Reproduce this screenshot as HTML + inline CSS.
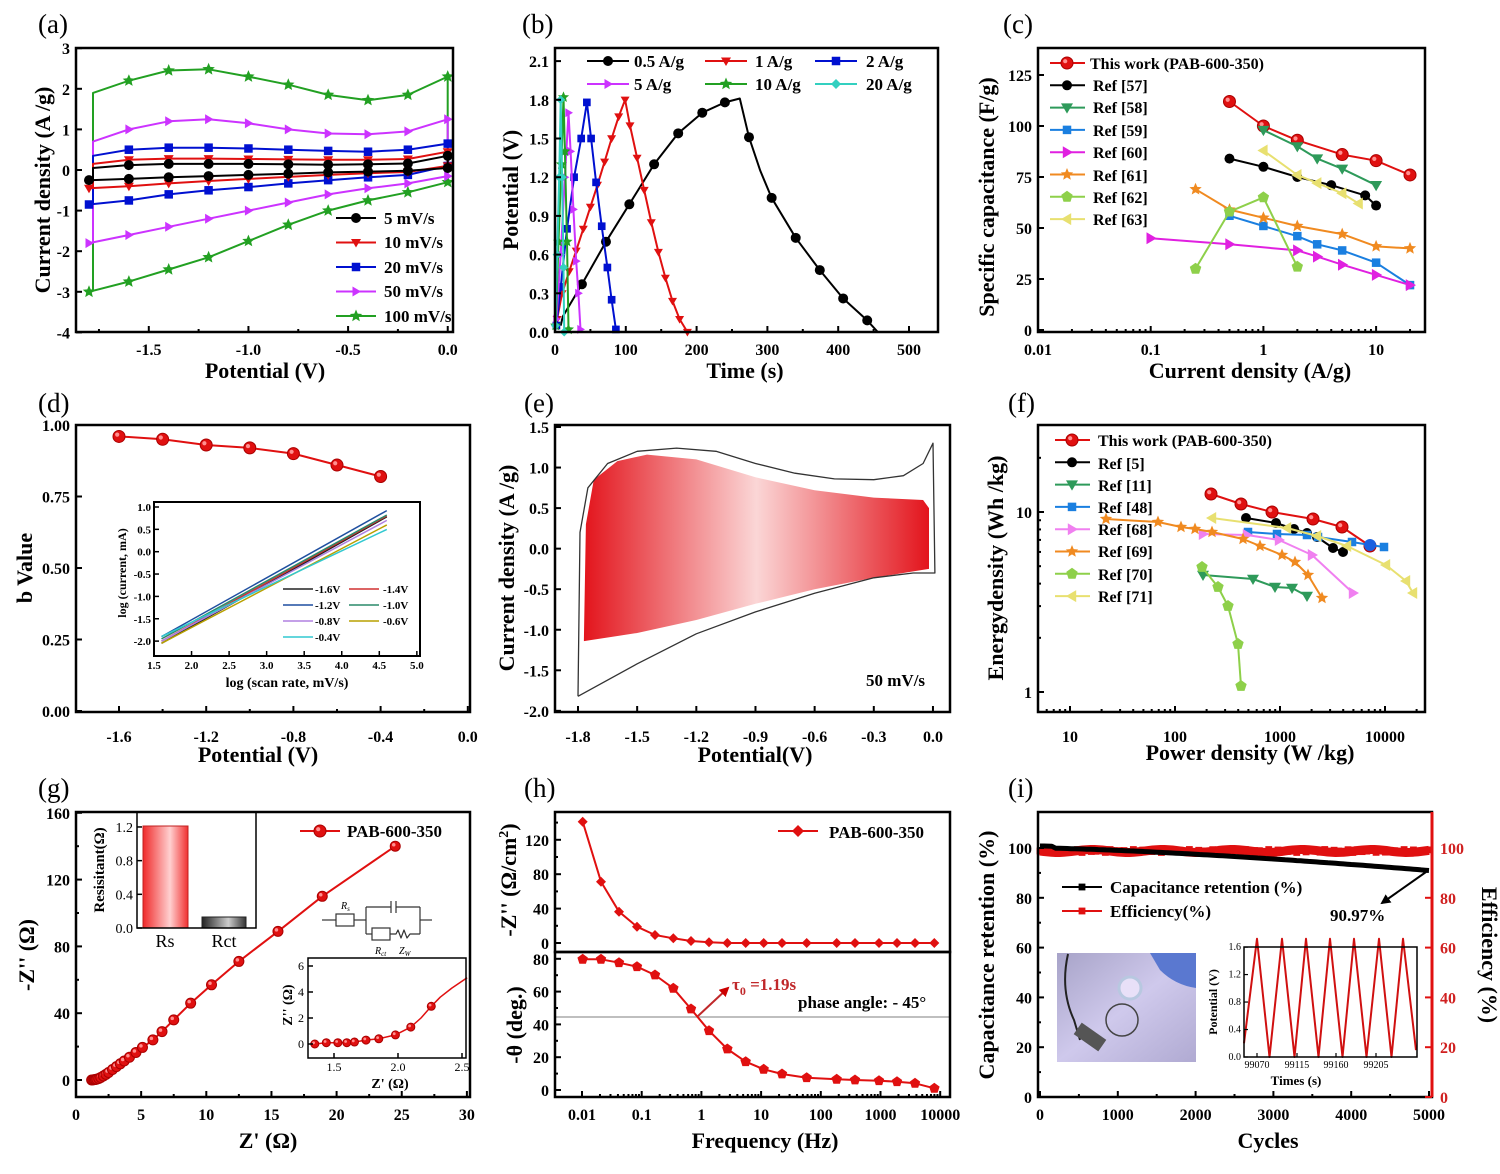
<!DOCTYPE html>
<html><head><meta charset="utf-8">
<style>
html,body{margin:0;padding:0;background:#fff;}
svg{display:block;font-family:"Liberation Serif",serif;}
text{font-family:"Liberation Serif",serif;}
</style></head>
<body>
<svg id="s" width="1500" height="1174" viewBox="0 0 1500 1174" xmlns="http://www.w3.org/2000/svg">
<defs>
<linearGradient id="ge" x1="0" x2="1" y1="0" y2="0">
<stop offset="0" stop-color="#e3141c"/><stop offset="0.5" stop-color="#fbd6d6"/><stop offset="1" stop-color="#e3141c"/>
</linearGradient>
<linearGradient id="gr" x1="0" x2="1" y1="0" y2="0">
<stop offset="0" stop-color="#f02a2a"/><stop offset="0.6" stop-color="#ffd0d0"/><stop offset="1" stop-color="#f03030"/>
</linearGradient>
<linearGradient id="gk" x1="0" x2="1" y1="0" y2="0">
<stop offset="0" stop-color="#222"/><stop offset="0.6" stop-color="#ccc"/><stop offset="1" stop-color="#333"/>
</linearGradient>
<linearGradient id="gp" x1="0" x2="1" y1="0" y2="1">
<stop offset="0" stop-color="#a7a3c8"/><stop offset="0.5" stop-color="#cfc9ec"/><stop offset="1" stop-color="#b0aad2"/>
</linearGradient>
<marker id="ah" viewBox="0 0 10 10" refX="8" refY="5" markerWidth="5" markerHeight="5" orient="auto"><path d="M0,0 L10,5 L0,10 z" fill="#c00"/></marker>
<marker id="ak" viewBox="0 0 10 10" refX="8" refY="5" markerWidth="5" markerHeight="5" orient="auto"><path d="M0,0 L10,5 L0,10 z" fill="#000"/></marker>
</defs>
<rect width="1500" height="1174" fill="#fff"/>

<g font-size="27">
<text x="38" y="33">(a)</text><text x="522" y="33">(b)</text><text x="1003" y="33">(c)</text>
<text x="38" y="412">(d)</text><text x="524" y="412">(e)</text><text x="1008" y="412">(f)</text>
<text x="38" y="797">(g)</text><text x="524" y="797">(h)</text><text x="1008" y="797">(i)</text>
</g>

<g font-size="22" font-weight="bold" text-anchor="middle">
<text x="265" y="378">Potential (V)</text>
<text transform="translate(50,190) rotate(-90)">Current density (A /g)</text>
<text x="745" y="378">Time (s)</text>
<text transform="translate(518,190) rotate(-90)">Potential (V)</text>
<text x="1250" y="378">Current density (A/g)</text>
<text transform="translate(994,197) rotate(-90)">Specific capacitance (F/g)</text>
<text x="258" y="762">Potential (V)</text>
<text transform="translate(32,568) rotate(-90)">b Value</text>
<text x="755" y="762">Potential(V)</text>
<text transform="translate(514,568) rotate(-90)">Current density (A /g)</text>
<text x="1250" y="760">Power density (W /kg)</text>
<text transform="translate(1003,568) rotate(-90)">Energydensity (Wh /kg)</text>
<text x="268" y="1148">Z' (Ω)</text>
<text transform="translate(34,955) rotate(-90)">-Z'' (Ω)</text>
<text x="765" y="1148">Frequency (Hz)</text>
<text transform="translate(516,880) rotate(-90)">-Z'' (Ω/cm<tspan font-size="14" dy="-8">2</tspan><tspan dy="8">)</tspan></text>
<text transform="translate(522,1025) rotate(-90)">-θ (deg.)</text>
<text x="1268" y="1148">Cycles</text>
<text transform="translate(994,955) rotate(-90)">Capacitance retention (%)</text>
<text transform="translate(1482,955) rotate(90)">Efficiency (%)</text>
</g>

<g font-size="17" font-weight="bold">
<text x="384" y="224">5 mV/s</text><text x="384" y="248">10 mV/s</text><text x="384" y="273">20 mV/s</text><text x="384" y="297">50 mV/s</text><text x="384" y="322">100 mV/s</text>
<text x="634" y="67">0.5 A/g</text><text x="755" y="67">1 A/g</text><text x="866" y="67">2 A/g</text>
<text x="634" y="90">5 A/g</text><text x="755" y="90">10 A/g</text><text x="866" y="90">20 A/g</text>
<g font-size="16">
<text x="1090" y="69">This work (PAB-600-350)</text><text x="1093" y="91">Ref [57]</text><text x="1093" y="113">Ref [58]</text><text x="1093" y="136">Ref [59]</text><text x="1093" y="158">Ref [60]</text><text x="1093" y="181">Ref [61]</text><text x="1093" y="203">Ref [62]</text><text x="1093" y="225">Ref [63]</text>
<text x="1098" y="446">This work (PAB-600-350)</text><text x="1098" y="469">Ref [5]</text><text x="1098" y="491">Ref [11]</text><text x="1098" y="513">Ref [48]</text><text x="1098" y="535">Ref [68]</text><text x="1098" y="557">Ref [69]</text><text x="1098" y="580">Ref [70]</text><text x="1098" y="602">Ref [71]</text>
</g>
<text x="721" y="568">79%</text>
<text x="866" y="686">50 mV/s</text>
<text x="347" y="837">PAB-600-350</text>
<text x="829" y="838">PAB-600-350</text>
<text x="798" y="1008">phase angle: - 45°</text>
<text x="732" y="990" fill="#c0282a">τ<tspan font-size="12" dy="5">0</tspan><tspan dy="-5"> =1.19s</tspan></text>
<text x="1110" y="893">Capacitance retention (%)</text>
<text x="1110" y="917">Efficiency(%)</text>
<text x="1330" y="921">90.97%</text>
</g>

<g font-size="11" font-weight="bold">
<text x="315" y="593">-1.6V</text><text x="383" y="593">-1.4V</text>
<text x="315" y="609">-1.2V</text><text x="383" y="609">-1.0V</text>
<text x="315" y="625">-0.8V</text><text x="383" y="625">-0.6V</text>
<text x="315" y="641">-0.4V</text>
</g>
<text x="287" y="687" font-size="14" font-weight="bold" text-anchor="middle">log (scan rate, mV/s)</text>
<text transform="translate(126,573) rotate(-90)" font-size="12" font-weight="bold" text-anchor="middle">log (current, mA)</text>

<text x="390" y="1088" font-size="14" font-weight="bold" text-anchor="middle">Z' (Ω)</text>
<text transform="translate(292,1005) rotate(-90)" font-size="14" font-weight="bold" text-anchor="middle">Z'' (Ω)</text>
<g font-size="10" font-style="italic"><text x="341" y="909">R<tspan font-size="7" dy="2">s</tspan></text><text x="375" y="954">R<tspan font-size="7" dy="2">ct</tspan></text><text x="399" y="954">Z<tspan font-size="7" dy="2">W</tspan></text></g>

<text x="1296" y="1085" font-size="13" font-weight="bold" text-anchor="middle">Times (s)</text>
<text transform="translate(1217,1002) rotate(-90)" font-size="12" font-weight="bold" text-anchor="middle">Potential (V)</text>
</svg>
<script>
const NS='http://www.w3.org/2000/svg';
const svg=document.getElementById('s');
function el(tag,a,p){const e=document.createElementNS(NS,tag);for(const k in a)e.setAttribute(k,a[k]);(p||svg).appendChild(e);return e;}
function T(x,y,s,o){const e=el('text',Object.assign({x:x,y:y,'font-size':16,'font-weight':'bold','text-anchor':'middle'},o||{}));e.textContent=s;return e;}
function P(pts){return pts.map(p=>p[0].toFixed(1)+','+p[1].toFixed(1)).join(' ');}
function line(pts,c,w,ex){return el('polyline',Object.assign({points:P(pts),fill:'none',stroke:c,'stroke-width':w||2,'stroke-linejoin':'round'},ex||{}));}
function poly(pts,f,ex){return el('polygon',Object.assign({points:P(pts),fill:f},ex||{}));}
function star(x,y,r){const a=[];for(let i=0;i<10;i++){const rr=i%2?r*0.45:r;const t=-Math.PI/2+i*Math.PI/5;a.push([x+rr*Math.cos(t),y+rr*Math.sin(t)]);}return a;}
function mk(t,x,y,c,s){s=s||5;
 if(t=='o')el('circle',{cx:x,cy:y,r:s,fill:c});
 else if(t=='O'){el('circle',{cx:x,cy:y,r:s,fill:c,stroke:'#a00','stroke-width':1});el('circle',{cx:x-s*0.3,cy:y-s*0.3,r:s*0.35,fill:'#ff9090'});}
 else if(t=='s')el('rect',{x:x-s*0.85,y:y-s*0.85,width:s*1.7,height:s*1.7,fill:c});
 else if(t=='v')poly([[x-s,y-s*0.7],[x+s,y-s*0.7],[x,y+s]],c);
 else if(t=='>')poly([[x-s*0.7,y-s],[x-s*0.7,y+s],[x+s,y]],c);
 else if(t=='<')poly([[x+s*0.7,y-s],[x+s*0.7,y+s],[x-s,y]],c);
 else if(t=='*')poly(star(x,y,s*1.3),c);
 else if(t=='d')poly([[x,y-s],[x+s,y],[x,y+s],[x-s,y]],c);
 else if(t=='p'){const a=[];for(let i=0;i<5;i++){const q=-Math.PI/2+i*2*Math.PI/5;a.push([x+s*Math.cos(q),y+s*Math.sin(q)]);}poly(a,c);}
}
function series(pts,c,t,s,w){line(pts,c,w||2);pts.forEach(p=>mk(t,p[0],p[1],c,s));}
function frame(x,y,w,h,c){el('rect',{x:x,y:y,width:w,height:h,fill:'none',stroke:c||'#000','stroke-width':2.5});}
function xt(list,yb,ly,len,fs){list.forEach(a=>{el('line',{x1:a[0],x2:a[0],y1:yb,y2:yb-(len||6),stroke:'#000','stroke-width':2});if(a[1]!==null)T(a[0],ly,a[1],{'font-size':fs||16});});}
function yt(list,xl,lx,len,fs){list.forEach(a=>{el('line',{x1:xl,x2:xl+(len||6),y1:a[0],y2:a[0],stroke:'#000','stroke-width':2});if(a[1]!==null)T(lx,a[0]+(fs?fs*0.35:6),a[1],{'font-size':fs||16,'text-anchor':'end'});});}

// (a)
(function(){
const X=v=>89+(v+1.8)*199.3, Y=i=>170-i*40.6;
const vs=[];for(let i=0;i<10;i++)vs.push(-1.8+i*0.2);
const S=[
 ['#22a022','*',[1.9,2.2,2.45,2.48,2.3,2.1,1.85,1.72,1.85,2.3],[-3.0,-2.75,-2.45,-2.15,-1.75,-1.35,-1.0,-0.75,-0.55,-0.3]],
 ['#cc33ff','>',[0.7,1.0,1.2,1.25,1.15,1.0,0.9,0.88,0.95,1.25],[-1.8,-1.6,-1.4,-1.2,-1.0,-0.8,-0.6,-0.45,-0.33,-0.15]],
 ['#0010d0','s',[0.35,0.5,0.55,0.55,0.53,0.5,0.47,0.45,0.5,0.65],[-0.85,-0.75,-0.6,-0.5,-0.42,-0.33,-0.25,-0.18,-0.12,0.1]],
 ['#e01010','v',[0.15,0.25,0.28,0.28,0.27,0.26,0.25,0.25,0.27,0.45],[-0.45,-0.4,-0.33,-0.27,-0.22,-0.17,-0.12,-0.08,-0.05,0.1]],
 ['#000','o',[0.05,0.12,0.15,0.15,0.15,0.14,0.13,0.14,0.16,0.35],[-0.25,-0.22,-0.18,-0.15,-0.12,-0.09,-0.06,-0.04,-0.02,0.05]]];
S.forEach(s=>{const lo=vs.map((v,i)=>[X(v),Y(s[3][i])]);const up=vs.map((v,i)=>[X(v+(i==0?0.02:0)),Y(s[2][i])]);
 const loop=lo.concat([[X(0),Y(s[2][9])]]).concat(up.slice(0,9).reverse()).concat([[X(-1.8)+4,Y(s[3][0])]]);
 line(loop,s[0],2);
 for(let i=0;i<10;i++){mk(s[1],lo[i][0],lo[i][1],s[0],5);if(i>0)mk(s[1],up[i][0],up[i][1],s[0],5);}});
const L=[['#000','o'],['#e01010','v'],['#0010d0','s'],['#cc33ff','>'],['#22a022','*']];
L.forEach((l,i)=>{const y=218+i*24.5;line([[336,y],[376,y]],l[0],2);mk(l[1],356,y,l[0],5);});
frame(76,48,377,284);
xt([[X(-1.5),'-1.5'],[X(-1.0),'-1.0'],[X(-0.5),'-0.5'],[X(0),'0.0']],332,355);
xt([[X(-1.75),null],[X(-1.25),null],[X(-0.75),null],[X(-0.25),null]],332,0,3);
yt([3,2,1,0,-1,-2,-3,-4].map(v=>[Y(v),String(v)]),76,70);
})();

// (b)
(function(){
const X=t=>555+t*0.708, Y=v=>332-v*129;
const D=[
 ['#000','o',[[8,0.05],[11,0.12],[38,0.37],[72,0.7],[105,0.99],[140,1.3],[174,1.54],[208,1.7],[240,1.78],[261,1.81],[274,1.51],[290,1.25],[306,1.04],[340,0.73],[374,0.48],[407,0.26],[441,0.09],[456,0]],[2,3,4,5,6,7,8,10,12,13,14,15,16]],
 ['#e01010','v',[[3,0.1],[10,0.3],[20,0.47],[30,0.63],[40,0.8],[50,0.97],[60,1.14],[70,1.32],[80,1.5],[90,1.67],[99,1.8],[106,1.6],[116,1.35],[126,1.1],[136,0.85],[146,0.62],[156,0.42],[166,0.24],[176,0.1],[187,0]],null],
 ['#0010d0','s',[[2,0.05],[8,0.35],[17,0.8],[27,1.2],[37,1.5],[45,1.78],[51,1.5],[58,1.16],[66,0.82],[74,0.5],[80,0.25],[86,0.02]],null],
 ['#cc33ff','>',[[2,0.1],[8,0.6],[14,1.2],[19,1.7],[22,1.4],[26,0.95],[30,0.55],[33,0.3],[36,0.02]],null],
 ['#22a022','*',[[1,0.05],[5,0.7],[9,1.3],[12,1.82],[14,1.4],[17,0.7],[19,0.02]],null],
 ['#33d0c0','d',[[0.5,0.05],[3,0.6],[6,1.2],[8,1.8],[10,1.2],[12,0.5],[13,0]],null]];
D.forEach(d=>{const pts=d[2].map(p=>[X(p[0]),Y(p[1])]);line(pts,d[0],2);
 if(d[3])d[3].forEach(i=>mk(d[1],pts[i][0],pts[i][1],d[0],5));else pts.forEach(p=>mk(d[1],p[0],p[1],d[0],4.5));});
const L=[[587,61,'#000','o'],[705,61,'#e01010','v'],[815,61,'#0010d0','s'],[587,84,'#cc33ff','>'],[705,84,'#22a022','*'],[815,84,'#33d0c0','d']];
L.forEach(l=>{line([[l[0],l[1]],[l[0]+42,l[1]]],l[2],2);mk(l[3],l[0]+21,l[1],l[2],5);});
frame(555,48,383,284);
xt([0,100,200,300,400,500].map(t=>[X(t),String(t)]),332,355);
xt([50,150,250,350,450].map(t=>[X(t),null]),332,0,3);
yt(['0.0','0.3','0.6','0.9','1.2','1.5','1.8','2.1'].map(v=>[Y(+v),v]),555,549);
})();

// (c)
(function(){
const X=j=>1038+(Math.log10(j)+2)*112.7, Y=c=>330-c*2.04;
const D=[
 ['#e01010','O',[[0.5,112],[1,100],[2,93],[5,86],[10,83],[20,76]],6],
 ['#000','o',[[0.5,84],[1,80],[2,75],[4,71],[8,66],[10,61]],5],
 ['#2e9a5a','v',[[1,98],[2,90],[3,84],[5,79],[10,71]],6],
 ['#1a7fe0','s',[[0.5,56],[1,51],[2,46],[3,42],[5,39],[10,33],[20,22]],5],
 ['#e020e0','>',[[0.1,45],[0.5,42],[2,39],[3,36],[5,32],[10,27],[20,22]],6],
 ['#f08a20','*',[[0.25,69],[0.5,59],[1,55],[2,51],[5,47],[10,41],[20,40]],5],
 ['#8ed04a','p',[[0.25,30],[0.5,58],[1,65],[2,31]],6],
 ['#e8e070','<',[[1,88],[2,76],[3,72],[5,67],[7,62]],6]];
D.forEach((d,i)=>{series(d[2].map(p=>[X(p[0]),Y(p[1])]),d[0],d[1],d[3]);
 const y=63+i*22.3;line([[1050,y],[1085,y]],d[0],2);mk(d[1],1067,y,d[0],d[3]);});
frame(1038,48,387,284);
xt([[X(0.01),'0.01'],[X(0.1),'0.1'],[X(1),'1'],[X(10),'10']],332,355);
const mn=[];[0.01,0.1,1,10].forEach(b=>{for(let k=2;k<10;k++)if(b*k<=25)mn.push([X(b*k),null]);});xt(mn,332,0,3);
yt([0,25,50,75,100,125].map(v=>[Y(v),String(v)]),1038,1032);
})();

// (d)
(function(){
const X=v=>119+(v+1.6)*218, Y=b=>711-b*286;
series([[-1.6,0.96],[-1.4,0.95],[-1.2,0.93],[-1.0,0.92],[-0.8,0.90],[-0.6,0.86],[-0.4,0.82]].map(p=>[X(p[0]),Y(p[1])]),'#e01010','O',6);
frame(76,425,394,287);
xt([[X(-1.6),'-1.6'],[X(-1.2),'-1.2'],[X(-0.8),'-0.8'],[X(-0.4),'-0.4'],[X(0),'0.0']],712,742);
xt([X(-1.4),X(-1.0),X(-0.6),X(-0.2)].map(x=>[x,null]),712,0,3);
yt([['0.00',0],['0.25',0.25],['0.50',0.5],['0.75',0.75],['1.00',1]].map(a=>[Y(a[1]),a[0]]),76,70);
const IX=l=>154+(l-1.5)*75.1, IY=y=>507+(1-y)*44.7;
const C=[['#222',-2.05,0.78],['#d03030',-2.0,0.8],['#1f4fa0',-1.9,0.92],['#2a8a6a',-1.95,0.82],['#b080e0',-2.0,0.7],['#b8a000',-2.05,0.6],['#30c8d0',-1.9,0.5]];
C.forEach(c=>line([[IX(1.6),IY(c[1])],[IX(4.6),IY(c[2])]],c[0],1.5));
el('rect',{x:154,y:502,width:266,height:154,fill:'none',stroke:'#000','stroke-width':2});
[['1.5',1.5],['2.0',2],['2.5',2.5],['3.0',3],['3.5',3.5],['4.0',4],['4.5',4.5],['5.0',5]].forEach(a=>{el('line',{x1:IX(a[1]),x2:IX(a[1]),y1:656,y2:651,stroke:'#000','stroke-width':1.5});T(IX(a[1]),669,a[0],{'font-size':11});});
['1.0','0.5','0.0','-0.5','-1.0','-1.5','-2.0'].forEach(s=>{const y=IY(+s);el('line',{x1:154,x2:159,y1:y,y2:y,stroke:'#000','stroke-width':1.5});T(151,y+4,s,{'font-size':11,'text-anchor':'end'});});
const LG=[[283,589,'#222'],[349,589,'#d03030'],[283,605,'#1f4fa0'],[349,605,'#2a8a6a'],[283,621,'#b080e0'],[349,621,'#b8a000'],[283,637,'#30c8d0']];
LG.forEach(l=>line([[l[0],l[1]],[l[0]+30,l[1]]],l[2],1.5));
})();

// (e)
(function(){
const X=v=>578+(v+1.8)*197.2, Y=i=>427+(1.5-i)*81.1;
const inner=[[-1.77,-1.12],[-1.76,0.3],[-1.72,0.85],[-1.6,1.08],[-1.45,1.16],[-1.2,1.1],[-0.9,0.88],[-0.6,0.72],[-0.3,0.63],[-0.05,0.6],[-0.02,0.5],[-0.02,-0.25],[-0.1,-0.28],[-0.3,-0.36],[-0.6,-0.5],[-0.9,-0.68],[-1.2,-0.88],[-1.5,-1.04],[-1.77,-1.14]];
poly(inner.map(p=>[X(p[0]),Y(p[1])]),'url(#ge)');
const outer=[[-1.8,-1.82],[-1.79,0.2],[-1.75,0.75],[-1.65,1.05],[-1.5,1.2],[-1.3,1.24],[-1.1,1.2],[-0.9,1.05],[-0.7,0.93],[-0.5,0.86],[-0.3,0.85],[-0.15,0.9],[-0.05,1.05],[0,1.3],[0.01,-0.3],[-0.1,-0.3],[-0.3,-0.36],[-0.6,-0.55],[-0.9,-0.78],[-1.2,-1.05],[-1.5,-1.42],[-1.8,-1.82]];
line(outer.map(p=>[X(p[0]),Y(p[1])]),'#333',1.3);
frame(555,425,395,287);
xt(['-1.8','-1.5','-1.2','-0.9','-0.6','-0.3','0.0'].map(s=>[X(+s),s]),712,742);
yt(['1.5','1.0','0.5','0.0','-0.5','-1.0','-1.5','-2.0'].map(s=>[Y(+s),s]),555,549);
})();

// (f)
(function(){
const D=[
 ['#e01010','O',[[1211,494],[1241,504],[1272,512],[1313,519],[1342,527],[1370,546]],6],
 ['#000','o',[[1246,518],[1276,523],[1294,529],[1307,533],[1317,537],[1333,548],[1343,552]],5],
 ['#2e9a5a','v',[[1203,575],[1253,579],[1275,587],[1292,588],[1307,596]],6],
 ['#1a7fe0','s',[[1248,532],[1277,534],[1307,535],[1318,537],[1352,542],[1370,545],[1384,547]],5],
 ['#f080f0','>',[[1203,534],[1247,535],[1279,540],[1312,555],[1353,593]],6],
 ['#f08a20','*',[[1106,519],[1158,522],[1181,527],[1195,529],[1212,532],[1243,539],[1260,546],[1282,555],[1295,562],[1308,575],[1322,598]],5],
 ['#8ed04a','p',[[1202,567],[1218,587],[1228,606],[1238,644],[1241,686]],6],
 ['#e8e070','<',[[1212,518],[1287,528],[1317,536],[1347,546],[1386,565],[1406,581],[1413,593]],6]];
D.forEach((d,i)=>{series(d[2],d[0],d[1],d[3]);const y=440+i*22.3;line([[1055,y],[1090,y]],d[0],2);mk(d[1],1072,y,d[0],d[3]);});
el('circle',{cx:1370,cy:545,r:6,fill:'#1a60e0'});
frame(1038,425,387,287);
const X=p=>1070+(Math.log10(p)-1)*105;
xt([[X(10),'10'],[X(100),'100'],[X(1000),'1000'],[X(10000),'10000']],712,742);
const mn=[];[1,10,100,1000,10000].forEach(b=>{for(let k=2;k<10;k++){const x=X(b*k);if(x>1040&&x<1423)mn.push([x,null]);}});xt(mn,712,0,3);
const Y=e=>692-Math.log10(e)*180;
yt([[Y(10),'10'],[Y(1),'1']],1038,1032);
const ym=[];for(let k=2;k<10;k++){ym.push([Y(k),null]);}ym.push([Y(20),null]);ym.push([Y(30),null]);yt(ym.filter(a=>a[0]>427),1038,0,3);
})();

// (g)
(function(){
const X=z=>76+z*13.03, Y=z=>1080-z*1.67;
const pts=[[1.2,0],[1.3,0.1],[1.4,0.2],[1.5,0.3],[1.6,0.5],[1.75,0.9],[1.9,1.5],[2.1,2.4],[2.3,3.4],[2.5,4.5],[2.8,6.3],[3.1,8],[3.4,9.7],[3.7,11.4],[4.1,13.6],[4.6,16.5],[5.1,19.5],[5.9,24],[6.6,29],[7.5,36],[8.8,46],[10.4,57],[12.5,71],[15.5,89],[18.9,110],[24.5,140]];
series(pts.map(p=>[X(p[0]),Y(p[1])]),'#e01010','O',5);
line([[300,831],[340,831]],'#e01010',2);mk('O',320,831,'#e01010',6);
el('rect',{x:88,y:812,width:169,height:116,fill:'#fff'});
el('rect',{x:143,y:826,width:45,height:102,fill:'url(#gr)',stroke:'#c02020','stroke-width':1});
el('rect',{x:202,y:917,width:44,height:11,fill:'url(#gk)',stroke:'#222','stroke-width':1});
el('rect',{x:137,y:812,width:119,height:116,fill:'none',stroke:'#000','stroke-width':1.5});
[['1.2',1.2],['0.8',0.8],['0.4',0.4],['0.0',0]].forEach(a=>{const y=928-a[1]*84.2;el('line',{x1:137,x2:142,y1:y,y2:y,stroke:'#000','stroke-width':1.5});T(133,y+5,a[0],{'font-size':14,'font-weight':'normal','text-anchor':'end'});});
T(0,0,'Resisitant(Ω)',{'font-size':15,transform:'translate(104,870) rotate(-90)'});
T(165,947,'Rs',{'font-size':18,'font-weight':'normal'});
T(224,947,'Rct',{'font-size':18,'font-weight':'normal'});
frame(76,812,394,285);
xt([0,5,10,15,20,25,30].map(z=>[X(z),String(z)]),1097,1120);
xt([2.5,7.5,12.5,17.5,22.5,27.5].map(z=>[X(z),null]),1097,0,3);
yt([0,40,80,120,160].map(v=>[Y(v),String(v)]),76,70);
yt([20,60,100,140].map(v=>[Y(v),null]),76,0,3);
const k='#333';const Lk=(a)=>line(a,k,1.2);
Lk([[322,920],[336,920]]);el('rect',{x:336,y:914,width:18,height:12,fill:'#fff',stroke:k,'stroke-width':1.2});Lk([[354,920],[366,920]]);
Lk([[366,907],[366,934]]);Lk([[366,907],[391,907]]);Lk([[391,901],[391,913]]);Lk([[396,901],[396,913]]);Lk([[396,907],[420,907]]);
Lk([[366,934],[372,934]]);el('rect',{x:372,y:928,width:18,height:12,fill:'#fff',stroke:k,'stroke-width':1.2});Lk([[390,934],[396,934],[398,930],[401,938],[404,930],[407,938],[410,934],[420,934]]);
Lk([[420,907],[420,934]]);Lk([[420,920],[432,920]]);
const IX=z=>334+(z-1.5)*128, IY=z=>1044-z*13;
const ip=[[1.35,0],[1.44,0.1],[1.53,0.1],[1.6,0.1],[1.66,0.15],[1.75,0.3],[1.85,0.4],[1.98,0.7],[2.1,1.3],[2.18,2.0],[2.26,2.9],[2.33,3.6],[2.42,4.3],[2.54,5.1]];
line(ip.map(p=>[IX(p[0]),IY(p[1])]),'#e01010',1.5);
[[1.35,0],[1.44,0.1],[1.53,0.1],[1.6,0.1],[1.66,0.15],[1.75,0.3],[1.85,0.4],[1.98,0.7],[2.1,1.3],[2.26,2.9]].forEach(p=>mk('O',IX(p[0]),IY(p[1]),'#e01010',4));
el('rect',{x:308,y:958,width:158,height:100,fill:'none',stroke:'#000','stroke-width':1.5});
[['1.5',1.5],['2.0',2],['2.5',2.5]].forEach(a=>{el('line',{x1:IX(a[1]),x2:IX(a[1]),y1:1058,y2:1053,stroke:'#000','stroke-width':1.5});T(IX(a[1]),1071,a[0],{'font-size':12,'font-weight':'normal'});});
['0','2','4','6'].forEach(s=>{const y=IY(+s);el('line',{x1:308,x2:313,y1:y,y2:y,stroke:'#000','stroke-width':1.5});T(304,y+4,s,{'font-size':12,'font-weight':'normal','text-anchor':'end'});});
})();

// (h)
(function(){
const zx=[83,138,192,246,300,355,408,462,517,572,626,681,755,845,900,972,1026,1080,1138].map(v=>555+v/3);
const ty=[35,215,305,350,375,385,393,397,399,399,399,399,399,399,399,399,399,399,399].map(v=>810+v/3);
const by=[448,448,458,470,495,535,597,662,717,755,778,792,803,808,810,812,815,820,835].map(v=>810+v/3);
series(zx.map((x,i)=>[x,ty[i]]),'#e01010','d',5);
line([[555,1017],[950,1017]],'#aaa',1.5);
series(zx.map((x,i)=>[x,by[i]]),'#e01010','p',5.5);
el('line',{x1:698,y1:1016,x2:728,y2:988,stroke:'#c0282a','stroke-width':2,'marker-end':'url(#ah)'});
line([[778,831],[818,831]],'#e01010',2);mk('d',798,831,'#e01010',6);
frame(555,812,395,140);frame(555,952,395,145);
const X=f=>582+(f+2)*59.7;
const lab=['0.01','0.1','1','10','100','1000','10000'];
xt(lab.map((s,i)=>[X(i-2),s]),1097,1120);
const mn=[];for(let d=-2;d<4;d++)for(let k=2;k<10;k++)mn.push([X(d+Math.log10(k)),null]);xt(mn,1097,0,3);
yt([0,40,80,120].map(v=>[943-v*0.86,String(v)]),555,549);
yt([20,60,100,140].map(v=>[943-v*0.86,null]),555,0,3);
yt([0,20,40,60,80].map(v=>[1090-v*1.64,String(v)]),555,549);
yt([10,30,50,70].map(v=>[1090-v*1.64,null]),555,0,3);
})();

// (i)
(function(){
const X=n=>1040+n*0.0778, Y=p=>1097-p*2.49;
const r=[];for(let n=0;n<=5000;n+=50)r.push([X(n),Y(98.8+0.6*Math.sin(n*0.37))]);
line(r,'#e01010',9);
for(let n=0;n<=5000;n+=60)mk('s',X(n),Y(98.8+0.6*Math.sin(n*1.3)),'#e01010',4);
const b=[];for(let n=0;n<=5000;n+=50)b.push([X(n),Y(100-9.03*Math.pow(n/5000,1.4)+(n<200?0.8:0))]);
line(b,'#000',5);
line([[1062,887],[1102,887]],'#000',2);mk('s',1082,887,'#000',4);
line([[1062,911],[1102,911]],'#e01010',2);mk('s',1082,911,'#e01010',4);
el('line',{x1:1426,y1:872,x2:1382,y2:903,stroke:'#000','stroke-width':2,'marker-end':'url(#ak)'});
el('rect',{x:1057,y:953,width:139,height:109,fill:'url(#gp)'});
el('path',{d:'M1068,954 Q1060,990 1074,1020 L1080,1040',stroke:'#222','stroke-width':2,fill:'none'});
el('rect',{x:1075,y:1030,width:30,height:14,fill:'#555',transform:'rotate(35 1090 1037)'});
el('circle',{cx:1122,cy:1020,r:16,fill:'none',stroke:'#444','stroke-width':1.5});
el('circle',{cx:1130,cy:988,r:11,fill:'#e8e0f8',stroke:'#b8c8e0','stroke-width':3});
el('path',{d:'M1150,953 L1196,953 L1196,988 Q1175,985 1160,970 Z',fill:'#5a78d0'});
const IY=v=>1057-v*68.7;const pk=[1257,1282,1306,1330,1354,1379,1403];
const z=[[1244,IY(0.2)]];pk.forEach((p,i)=>{z.push([p,IY(1.72)]);z.push([p+12.5,IY(0)]);});z.pop();z.push([1416,IY(0.1)]);
line(z,'#d01010',2);
el('rect',{x:1244,y:947,width:173,height:110,fill:'none',stroke:'#000','stroke-width':1.5});
['0.0','0.4','0.8','1.2','1.6'].forEach(s=>{const y=IY(+s);el('line',{x1:1244,x2:1248,y1:y,y2:y,stroke:'#000','stroke-width':1.2});T(1241,y+3,s,{'font-size':10,'font-weight':'normal','text-anchor':'end'});});
[[1257,'99070'],[1297,'99115'],[1336,'99160'],[1376,'99205']].forEach(a=>{el('line',{x1:a[0],x2:a[0],y1:1057,y2:1053,stroke:'#000','stroke-width':1.2});T(a[0],1068,a[1],{'font-size':10,'font-weight':'normal'});});
frame(1038,812,394,285);
el('line',{x1:1432,y1:812,x2:1432,y2:1097,stroke:'#e01010','stroke-width':3});
xt([0,1000,2000,3000,4000,5000].map(n=>[X(n),String(n)]),1097,1120);
xt([500,1500,2500,3500,4500].map(n=>[X(n),null]),1097,0,3);
yt([0,20,40,60,80,100].map(v=>[Y(v),String(v)]),1038,1032);
yt([10,30,50,70,90].map(v=>[Y(v),null]),1038,0,3);
[0,20,40,60,80,100].forEach(v=>{el('line',{x1:1432,x2:1425,y1:Y(v),y2:Y(v),stroke:'#e01010','stroke-width':2});T(1440,Y(v)+6,String(v),{'text-anchor':'start',fill:'#d02020'});});
})();
</script>
</body></html>
